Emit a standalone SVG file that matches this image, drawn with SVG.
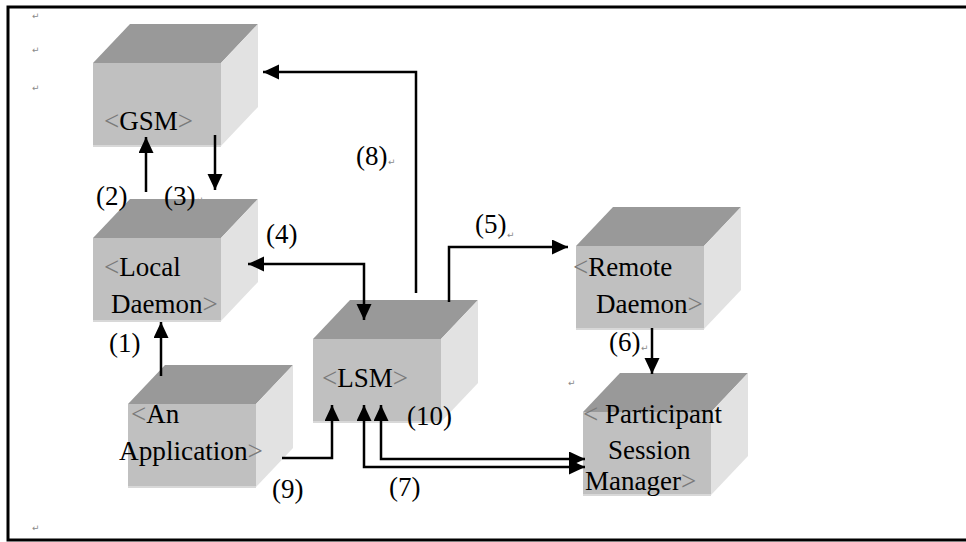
<svg xmlns="http://www.w3.org/2000/svg" xmlns:xlink="http://www.w3.org/1999/xlink" width="966" height="542" viewBox="0 0 966 542">
  <style>
    .wire { fill: none; stroke: #000; stroke-width: 2.5; }
  </style>
  <defs>
    <marker id="head" markerUnits="userSpaceOnUse" markerWidth="17" markerHeight="16" refX="16" refY="7.5" orient="auto-start-reverse">
      <path d="M0,0 L16,7.5 L0,15 Z" fill="#000"/>
    </marker>
    <!-- shaded cube: front face 128x83, depth offset (37,-39) -->
    <g id="cube">
      <polygon points="0,0 37,-39 165,-39 128,0" fill="#999999"/>
      <polygon points="128,0 165,-39 165,44 128,83" fill="#e2e2e2"/>
      <rect x="0" y="0" width="128" height="83" fill="#c0c0c0"/>
      <path d="M0,83 H128" stroke="#d8d8d8" stroke-width="2"/>
    </g>
  </defs>

  <rect x="0" y="0" width="966" height="542" fill="#fff"/>
  <!-- page frame -->
  <rect x="8" y="7" width="990" height="533" fill="none" stroke="#000" stroke-width="3"/>

  <!-- paragraph marks -->
  <g font-family="DejaVu Sans" font-size="9" fill="#8a8a8a">
    <text x="32" y="19">↵</text>
    <text x="32" y="53">↵</text>
    <text x="32" y="91">↵</text>
    <text x="32" y="531">↵</text>
    <text x="568" y="386">↵</text>
    <text x="210" y="128">↵</text>
    <text x="677" y="276">↵</text>
    <text x="704" y="313">↵</text>
    <text x="726" y="422">↵</text>
    <text x="699" y="459">↵</text>
    <text x="701" y="494">↵</text>
    <text x="196" y="203">↵</text>
    <text x="507" y="238">↵</text>
    <text x="641" y="351">↵</text>
    <text x="388" y="165">↵</text>
  </g>

  <g id="gsm">
    <use xlink:href="#cube" x="93" y="63"/>
    <text font-family="Liberation Serif" font-size="27" x="104" y="130"><tspan fill="#7a7a7a">&lt;</tspan>GSM<tspan fill="#7a7a7a">&gt;</tspan></text>
  </g>

  <g id="local-daemon">
    <use xlink:href="#cube" x="93" y="238"/>
    <text font-family="Liberation Serif" font-size="27" x="104" y="276"><tspan fill="#7a7a7a">&lt;</tspan>Local</text>
    <text font-family="Liberation Serif" font-size="27" x="111" y="313">Daemon<tspan fill="#7a7a7a">&gt;</tspan></text>
  </g>

  <g id="an-application">
    <use xlink:href="#cube" x="128" y="404"/>
    <text font-family="Liberation Serif" font-size="27" x="131" y="423"><tspan fill="#7a7a7a">&lt;</tspan>An</text>
    <text font-family="Liberation Serif" font-size="27" x="119" y="460" textLength="144" lengthAdjust="spacingAndGlyphs">Application<tspan fill="#7a7a7a">&gt;</tspan></text>
  </g>

  <g id="lsm">
    <use xlink:href="#cube" x="313" y="339"/>
    <text font-family="Liberation Serif" font-size="27" x="322" y="387"><tspan fill="#7a7a7a">&lt;</tspan>LSM<tspan fill="#7a7a7a">&gt;</tspan></text>
  </g>

  <g id="remote-daemon">
    <use xlink:href="#cube" x="576" y="246"/>
    <text font-family="Liberation Serif" font-size="27" x="573" y="276"><tspan fill="#7a7a7a">&lt;</tspan>Remote</text>
    <text font-family="Liberation Serif" font-size="27" x="596" y="313">Daemon<tspan fill="#7a7a7a">&gt;</tspan></text>
  </g>

  <g id="participant-session-manager">
    <use xlink:href="#cube" x="583" y="412"/>
    <text font-family="Liberation Serif" font-size="27" x="583" y="423"><tspan fill="#7a7a7a">&lt;</tspan> Participant</text>
    <text font-family="Liberation Serif" font-size="27" x="608" y="459">Session</text>
    <text font-family="Liberation Serif" font-size="27" x="585" y="490">Manager<tspan fill="#7a7a7a">&gt;</tspan></text>
  </g>

  <g id="connectors">
    <!-- (8) LSM to GSM -->
    <path class="wire" d="M416,293 V72 H263" marker-end="url(#head)"/>
    <!-- (2) Local Daemon to GSM -->
    <path class="wire" d="M146,192 V137" marker-end="url(#head)"/>
    <!-- (3) GSM to Local Daemon -->
    <path class="wire" d="M215,135 V190" marker-end="url(#head)"/>
    <!-- (4) Local Daemon and LSM -->
    <path class="wire" d="M248,264 H364 V320" marker-start="url(#head)" marker-end="url(#head)"/>
    <!-- (5) LSM to Remote Daemon -->
    <path class="wire" d="M449,302 V247 H568" marker-end="url(#head)"/>
    <!-- (6) Remote Daemon to Participant Session Manager -->
    <path class="wire" d="M652,328 V374" marker-end="url(#head)"/>
    <!-- (1) An Application to Local Daemon -->
    <path class="wire" d="M161,376 V322" marker-end="url(#head)"/>
    <!-- (9) An Application to LSM -->
    <path class="wire" d="M282,458 H332 V405" marker-end="url(#head)"/>
    <!-- (7) / (10) LSM and Participant Session Manager -->
    <path class="wire" d="M364,405 V467 H585" marker-start="url(#head)" marker-end="url(#head)"/>
    <path class="wire" d="M381,405 V459 H585" marker-start="url(#head)" marker-end="url(#head)"/>
  </g>

  <g id="step-labels" font-family="Liberation Serif" font-size="27">
    <text x="109" y="352">(1)</text>
    <text x="96" y="205">(2)</text>
    <text x="164" y="205">(3)</text>
    <text x="266" y="243">(4)</text>
    <text x="475" y="233">(5)</text>
    <text x="609" y="351">(6)</text>
    <text x="389" y="496">(7)</text>
    <text x="356" y="165">(8)</text>
    <text x="272" y="498">(9)</text>
    <text x="407" y="425">(10)</text>
  </g>
</svg>
